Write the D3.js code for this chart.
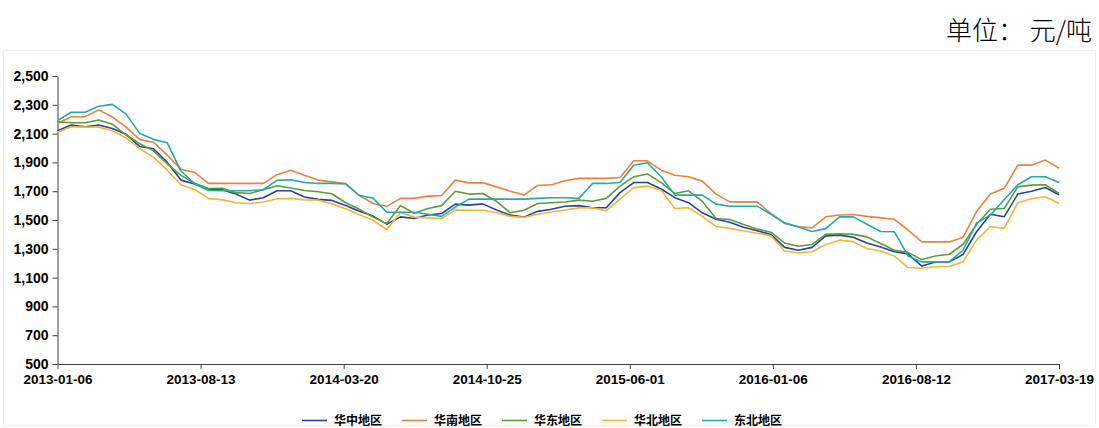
<!DOCTYPE html>
<html>
<head>
<meta charset="utf-8">
<script src="https://cdn.jsdelivr.net/npm/d3@7.9.0/dist/d3.min.js"></script>
<style>
  html, body { margin: 0; padding: 0; background: #fff; }
  svg { display: block; }
  .axis text { font-family: "Liberation Sans", Arial, sans-serif; font-weight: bold; fill: #000; }
  .axis path, .axis line { stroke: #404040; }
  .legend text, .unit { font-family: "Noto Sans CJK SC", sans-serif; fill: #000; }
</style>
</head>
<body>
<svg id="chart" width="1099" height="428"></svg>
<script>
// weekly report, sampled every 3 weeks from 2013-01-06
const startDate = '2013-01-06';
const stepDays = 21;

const tickLabels = ['2013-01-06', '2013-08-13', '2014-03-20', '2014-10-25',
  '2015-06-01', '2016-01-06', '2016-08-12', '2017-03-19'];

const seriesNames = ['华中地区', '华南地区', '华东地区', '华北地区', '东北地区'];
const seriesColors = ['#2444a0', '#f27f38', '#5f9a3c', '#f8b433', '#21abaa'];

const huazhong = [2120, 2160, 2148, 2160, 2136, 2095, 2010, 1995, 1900, 1777,
  1750, 1715, 1710, 1680, 1638, 1655, 1703, 1703, 1660, 1643,
  1636, 1600, 1560, 1527, 1471, 1522, 1510, 1535, 1545, 1610,
  1603, 1612, 1570, 1534, 1520, 1560, 1575, 1595, 1600, 1585,
  1585, 1690, 1760, 1760, 1715, 1655, 1620, 1550, 1505, 1485,
  1450, 1425, 1400, 1310, 1290, 1310, 1390, 1395, 1380, 1340,
  1313, 1280, 1265, 1180, 1209, 1209, 1260, 1420, 1540, 1522,
  1680, 1700, 1726, 1675];

const huanan = [2170, 2217, 2217, 2265, 2215, 2145, 2058, 2040, 1950, 1853,
  1830, 1754, 1754, 1754, 1754, 1754, 1815, 1846, 1810, 1777,
  1765, 1754, 1670, 1615, 1595, 1650, 1650, 1666, 1670, 1777,
  1758, 1758, 1730, 1700, 1673, 1740, 1745, 1772, 1789, 1789,
  1789, 1795, 1911, 1911, 1846, 1811, 1800, 1770, 1680, 1626,
  1626, 1626, 1545, 1476, 1455, 1445, 1522, 1535, 1538, 1525,
  1515, 1505, 1430, 1348, 1348, 1348, 1380, 1560, 1680, 1720,
  1881, 1881, 1916, 1860];

const huadong = [2182, 2175, 2175, 2194, 2165, 2090, 2030, 1980, 1890, 1810,
  1755, 1719, 1720, 1690, 1684, 1710, 1738, 1722, 1705, 1696,
  1682, 1620, 1575, 1520, 1476, 1600, 1547, 1580, 1600, 1700,
  1680, 1684, 1630, 1550, 1568, 1615, 1620, 1625, 1638, 1630,
  1650, 1735, 1800, 1820, 1760, 1684, 1703, 1630, 1510, 1504,
  1468, 1438, 1415, 1340, 1318, 1330, 1400, 1405, 1400, 1383,
  1337, 1290, 1275, 1225, 1250, 1262, 1330, 1470, 1575, 1580,
  1730, 1742, 1745, 1685];

const huabei = [2110, 2148, 2145, 2145, 2120, 2070, 1995, 1935, 1846, 1745,
  1712, 1650, 1640, 1620, 1615, 1625, 1648, 1650, 1640, 1638,
  1613, 1578, 1536, 1498, 1434, 1550, 1520, 1515, 1510, 1570,
  1568, 1568, 1550, 1525, 1518, 1540, 1556, 1570, 1584, 1584,
  1565, 1645, 1725, 1735, 1707, 1580, 1585, 1525, 1455, 1442,
  1425, 1408, 1390, 1285, 1272, 1280, 1330, 1360, 1350, 1302,
  1285, 1250, 1170, 1165, 1175, 1178, 1210, 1360, 1455, 1441,
  1620, 1648, 1661, 1615];

const dongbei = [2190, 2248, 2248, 2290, 2303, 2235, 2100, 2060, 2036, 1840,
  1750, 1705, 1703, 1703, 1703, 1710, 1775, 1780, 1760, 1754,
  1754, 1750, 1670, 1652, 1554, 1554, 1554, 1540, 1525, 1590,
  1645, 1645, 1645, 1645, 1645, 1650, 1655, 1655, 1650, 1754,
  1754, 1760, 1880, 1897, 1800, 1673, 1673, 1673, 1610, 1596,
  1596, 1596, 1540, 1480, 1452, 1420, 1440, 1522, 1522, 1470,
  1420, 1418, 1250, 1209, 1209, 1209, 1290, 1480, 1534, 1640,
  1745, 1800, 1800, 1760];

const yTicks = [500, 700, 900, 1100, 1300, 1500, 1700, 1900, 2100, 2300, 2500];

const allSeries = [huazhong, huanan, huadong, huabei, dongbei];

const parse = d3.timeParse('%Y-%m-%d');
const fmt = d3.timeFormat('%Y-%m-%d');
const dates = huazhong.map((_, i) => d3.timeDay.offset(parse(startDate), i * stepDays));

const svg = d3.select('#chart');

// faint frame
svg.append('rect')
  .attr('x', 3.5).attr('y', 50.5)
  .attr('width', 1092).attr('height', 375)
  .attr('fill', 'none')
  .attr('stroke', '#f0f0f0');

const plotLeft = 57.5, plotRight = 1059, plotTop = 76, plotBottom = 364;

const x = d3.scaleTime()
  .domain([parse(tickLabels[0]), parse(tickLabels[tickLabels.length - 1])])
  .range([plotLeft, plotRight]);

const y = d3.scaleLinear()
  .domain([500, 2500])
  .range([plotBottom, plotTop]);

// axes
svg.append('g')
  .attr('class', 'axis')
  .attr('transform', `translate(0,${plotBottom})`)
  .call(d3.axisBottom(x)
    .tickValues(tickLabels.map(parse))
    .tickFormat(fmt)
    .tickSize(5)
    .tickSizeOuter(0))
  .call(g => g.selectAll('text').attr('font-size', 13.5).attr('dy', '0.9em'));

svg.append('g')
  .attr('class', 'axis')
  .attr('transform', `translate(${plotLeft},0)`)
  .call(d3.axisLeft(y)
    .tickValues(yTicks)
    .tickFormat(d3.format(','))
    .tickSize(5)
    .tickSizeOuter(0))
  .call(g => g.selectAll('text').attr('font-size', 14).attr('x', -9));

// lines
const line = d3.line()
  .x((d, i) => x(dates[i]))
  .y(d => y(d));

allSeries.forEach((values, k) => {
  svg.append('path')
    .datum(values)
    .attr('fill', 'none')
    .attr('stroke', seriesColors[k])
    .attr('stroke-width', 1.6)
    .attr('stroke-linejoin', 'round')
    .attr('d', line);
});

// legend
const legend = svg.append('g').attr('class', 'legend');
seriesNames.forEach((name, k) => {
  const lx = 302 + k * 100;
  legend.append('line')
    .attr('x1', lx).attr('x2', lx + 25)
    .attr('y1', 420.5).attr('y2', 420.5)
    .attr('stroke', seriesColors[k])
    .attr('stroke-width', 1.6);
  legend.append('text')
    .attr('x', lx + 32)
    .attr('y', 425)
    .attr('font-size', 12)
    .attr('font-weight', 'bold')
    .text(name);
});

// unit
svg.append('text')
  .attr('class', 'unit')
  .attr('x', 1092)
  .attr('y', 40)
  .attr('text-anchor', 'end')
  .attr('font-size', 26)
  .attr('font-weight', 300)
  .text('单位： 元/吨');
</script>
</body>
</html>
